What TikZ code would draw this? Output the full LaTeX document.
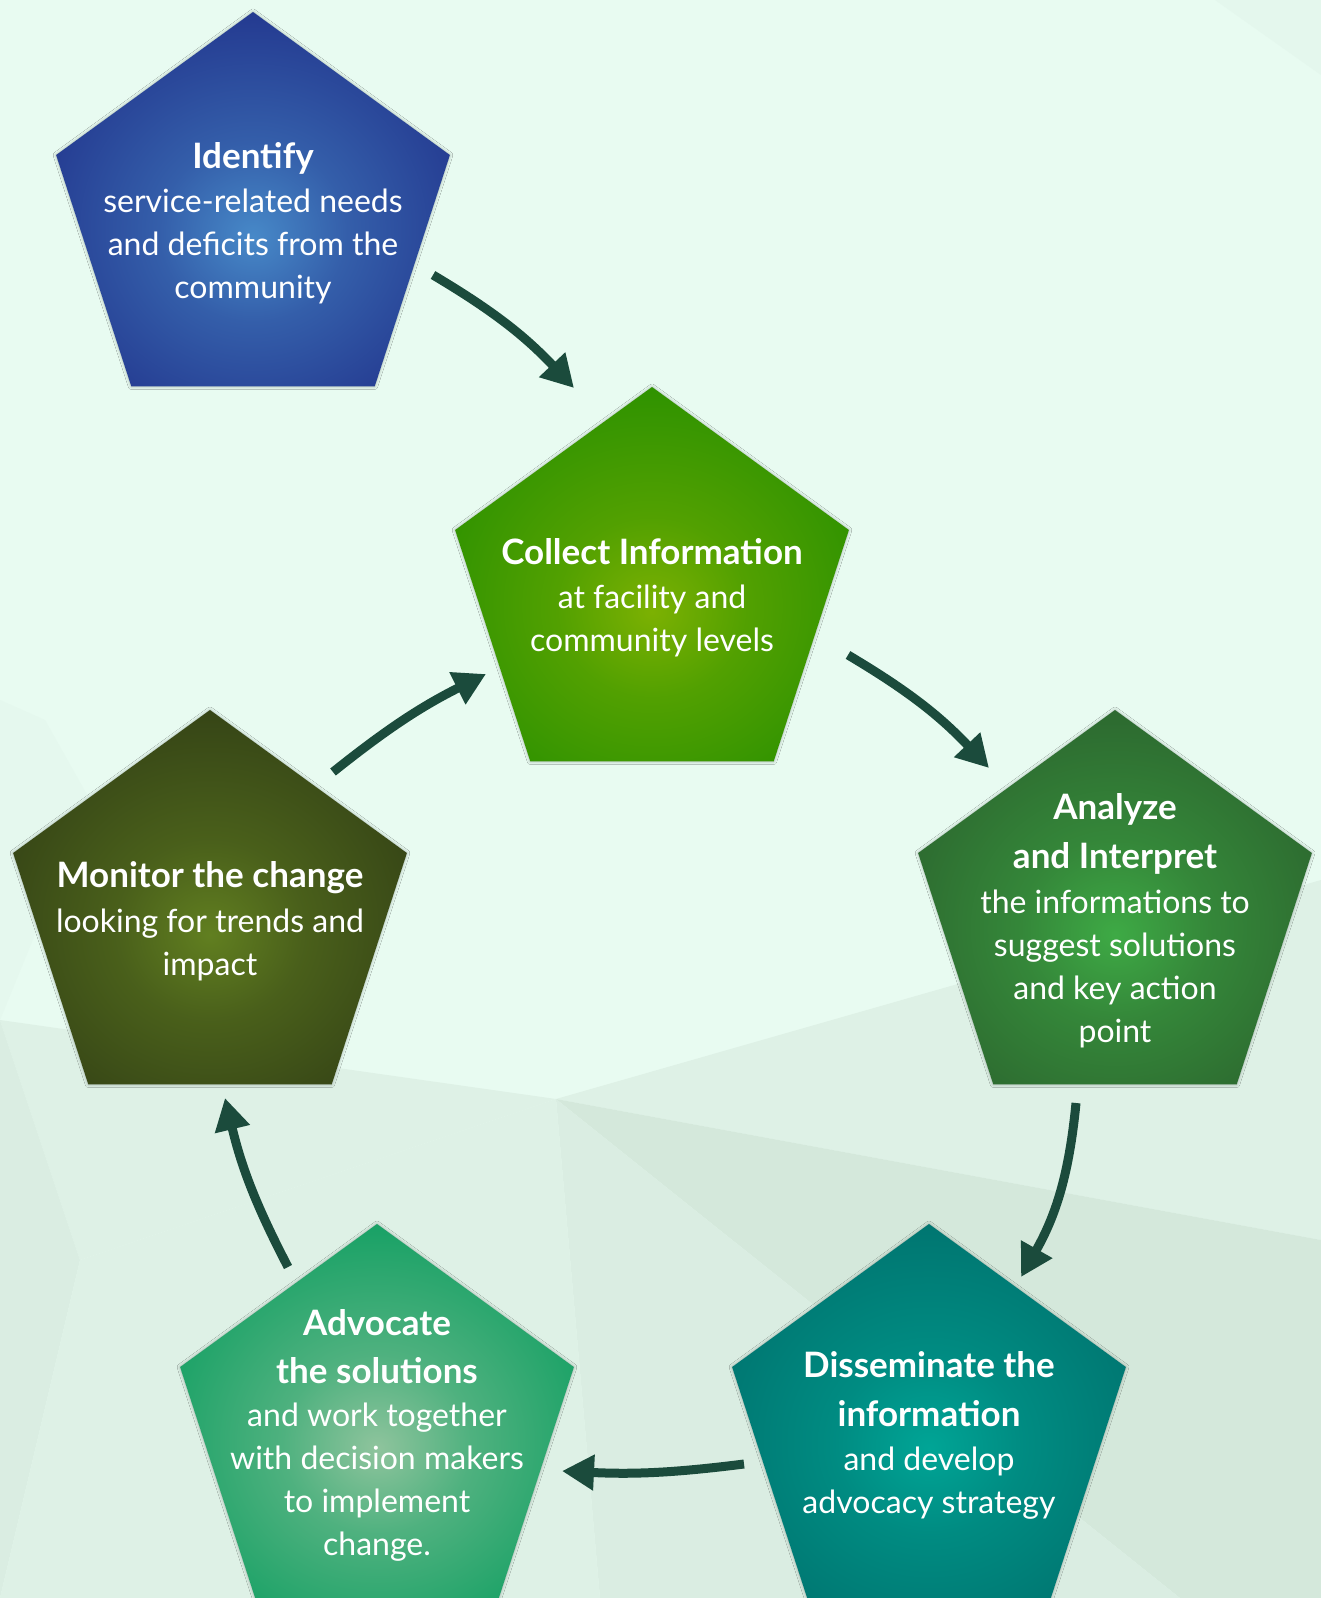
\documentclass[tikz,border=0pt]{standalone}
\usepackage{fontspec}
\setmainfont{Lato}
\usetikzlibrary{shapes.geometric,arrows.meta,calc,shadows.blur}

% background tones
\definecolor{bgA}{HTML}{E8FBF1}
\definecolor{bgB}{HTML}{E4F7ED}
\definecolor{bgC}{HTML}{DEF1E6}
\definecolor{bgD}{HTML}{DAEDE2}
\definecolor{bgE}{HTML}{D4E8DB}
\definecolor{bgF}{HTML}{E5F8EE}
% arrows
\definecolor{arrowgreen}{HTML}{1B4B3C}
% pentagon gradients
\definecolor{idIn}{HTML}{4789C8}\definecolor{idOut}{HTML}{1D2A85}
\definecolor{coIn}{HTML}{7CB102}\definecolor{coOut}{HTML}{1F8C00}
\definecolor{anIn}{HTML}{3EAA45}\definecolor{anOut}{HTML}{295C2B}
\definecolor{diIn}{HTML}{00A596}\definecolor{diOut}{HTML}{006C69}
\definecolor{adIn}{HTML}{8FC49D}\definecolor{adOut}{HTML}{009A5A}
\definecolor{moIn}{HTML}{617F20}\definecolor{moOut}{HTML}{2D3914}

\newcommand{\pentglow}[3]{%
  \pgfdeclareradialshading{#1}{\pgfpoint{0bp}{-5bp}}{%
    color(0bp)=(#2); color(12bp)=(#2!55!#3); color(36bp)=(#3); color(100bp)=(#3)}}
\pentglow{glowIdentify}{idIn}{idOut}
\pentglow{glowCollect}{coIn}{coOut}
\pentglow{glowAnalyze}{anIn}{anOut}
\pentglow{glowDissem}{diIn}{diOut}
\pentglow{glowAdvocate}{adIn}{adOut}
\pentglow{glowMonitor}{moIn}{moOut}

\tikzset{
  pent/.style={regular polygon, regular polygon sides=5, minimum size=414pt,
    inner sep=0pt, outer sep=0pt, shading=#1,
    blur shadow={shadow xshift=0pt, shadow yshift=0pt, shadow blur radius=3pt,
      shadow opacity=30, shadow blur steps=6}},
  pentext/.style={align=center, text=white, yshift=-4pt,
    font=\fontsize{32}{43}\selectfont},
  cyclearrow/.style={draw=arrowgreen, line width=9pt,
    -{Triangle[length=32pt,width=34pt]}},
}
\newcommand{\hd}[1]{{\fontsize{35}{43}\selectfont\bfseries #1}}

\begin{document}
\begin{tikzpicture}[x=1pt,y=1pt]
  \useasboundingbox (0,0) rectangle (1321,-1598);

  % low-poly backdrop
  \fill[bgA] (0,0) rectangle (1321,-1598);
  \fill[bgB] (1215,0) -- (1321,0) -- (1321,-75) -- cycle;
  \fill[bgF] (0,-700) -- (45,-720) -- (90,-800) -- (0,-1020) -- cycle;
  \fill[bgC] (556,-1099) -- (1321,-880) -- (1321,-1240) -- cycle;
  \fill[bgE] (1321,-1240) -- (556,-1099) -- (1180,-1598) -- (1321,-1598) -- cycle;
  \fill[bgD] (556,-1099) -- (1180,-1598) -- (600,-1598) -- cycle;
  \fill[bgC] (0,-1020) -- (556,-1099) -- (80,-1260) -- cycle;
  \fill[bgD] (0,-1020) -- (80,-1260) -- (0,-1598) -- cycle;
  \fill[bgC] (80,-1260) -- (556,-1099) -- (600,-1598) -- (0,-1598) -- cycle;

  % pentagons
  \node[pent=glowIdentify] (identify) at (253,-219) {};
  \node[pent=glowCollect]  (collect)  at (652,-594) {};
  \node[pent=glowAnalyze]  (analyze)  at (1115,-917) {};
  \node[pent=glowDissem]   (dissem)   at (929,-1431) {};
  \node[pent=glowAdvocate] (advocate) at (377,-1431) {};
  \node[pent=glowMonitor]  (monitor)  at (210,-917) {};

  % texts
  \node[pentext] (identify-t) at (identify) {\hd{Identify}\\[1pt]
    service-related needs\\and deficits from the\\community};
  \node[pentext] (collect-t) at (collect) {\hd{Collect Information}\\[1pt]
    at facility and\\community levels};
  \node[pentext] (analyze-t) at (analyze) {\hd{Analyze}\\[6pt]\hd{and Interpret}\\[2pt]
    the informations to\\suggest solutions\\and key action\\point};
  \node[pentext] (dissem-t) at (dissem) {\hd{Disseminate the}\\[6pt]\hd{information}\\[1pt]
    and develop\\advocacy strategy};
  \node[pentext] (advocate-t) at (advocate) {\hd{Advocate}\\[5pt]\hd{the solutions}\\[0pt]
    and work together\\with decision makers\\to implement\\change.};
  \node[pentext] (monitor-t) at (monitor) {\hd{Monitor the change}\\[2pt]
    looking for trends and\\impact};

  % arrow ends, placed around the cycle
  \coordinate (a1s) at ($(identify)+(180,-56)$);
  \coordinate (a1e) at ($(collect)+(-78,206)$);
  \coordinate (a2s) at ($(collect)+(196,-61)$);
  \coordinate (a2e) at ($(analyze)+(-126,149)$);
  \coordinate (a3s) at ($(analyze)+(-39,-186)$);
  \coordinate (a3e) at ($(dissem)+(92,154)$);
  \coordinate (a4s) at ($(dissem)+(-185,-33)$);
  \coordinate (a4e) at ($(advocate)+(185,-40)$);
  \coordinate (a5s) at ($(advocate)+(-89,164)$);
  \coordinate (a5e) at ($(monitor)+(15,-181)$);
  \coordinate (a6s) at ($(monitor)+(123,145)$);
  \coordinate (a6e) at ($(collect)+(-166,-80)$);

  \draw[cyclearrow] (a1s) to[bend left=8] (a1e);
  \draw[cyclearrow] (a2s) to[bend left=8] (a2e);
  \draw[cyclearrow] (a3s) to[bend left=12] (a3e);
  \draw[cyclearrow] (a4s) to[bend left=5] (a4e);
  \draw[cyclearrow] (a5s) to[bend left=7] (a5e);
  \draw[cyclearrow] (a6s) to[bend left=6] (a6e);
\end{tikzpicture}
\end{document}
